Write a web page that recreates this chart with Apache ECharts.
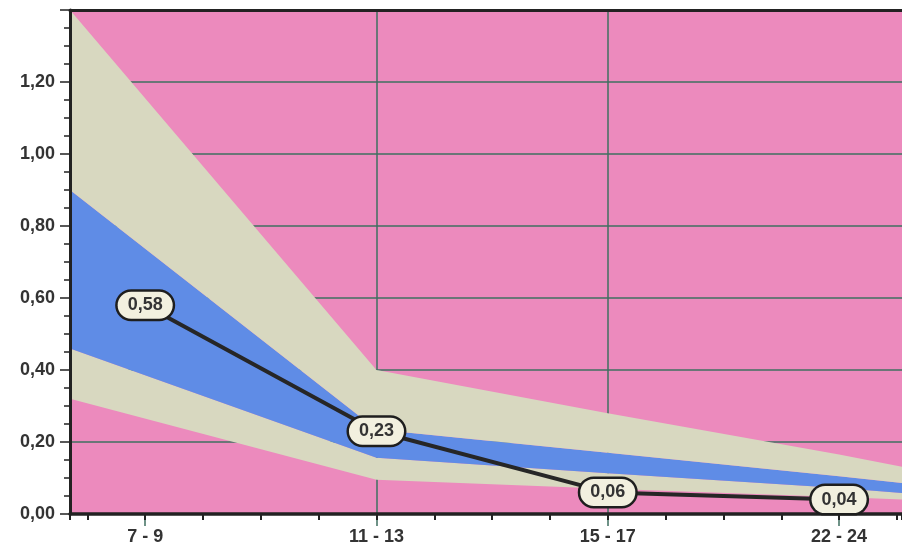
<!DOCTYPE html>
<html><head><meta charset="utf-8">
<script src="https://cdn.jsdelivr.net/npm/echarts@6/dist/echarts.min.js"></script>
<style>html,body{margin:0;padding:0;background:#fff}#c{width:902px;height:550px}</style>
</head><body><div id="c"></div>
<script>
// ---- data ----
const categories = ['7 - 9', '11 - 13', '15 - 17', '22 - 24'];
const categoryX = [1, 2, 3, 4];
const meanValues = [0.58, 0.23, 0.06, 0.04];
// band boundaries (x in category units)
const bandX      = [0.675, 2, 3, 4, 4.272];
const outerUpper = [1.40, 0.40, 0.28, 0.165, 0.131];
const blueUpper  = [0.90, 0.235, 0.17, 0.105, 0.086];
const blueLower  = [0.46, 0.156, 0.113, 0.072, 0.058];
const outerLower = [0.32, 0.095, 0.07, 0.047, 0.04];
const yTickValues = [0, 0.2, 0.4, 0.6, 0.8, 1.0, 1.2];
const yTickLabels = ['0,00', '0,20', '0,40', '0,60', '0,80', '1,00', '1,20'];

const X_MIN = 0.675, X_MAX = 4.272;
const PINK = '#ec8abd', BEIGE = '#d8d8c0', BLUE = '#5f8ce6', GRID = '#3f6f60', INK = '#222';

const chart = echarts.init(document.getElementById('c'), null, {renderer: 'canvas'});
const fontFamily = 'Liberation Sans, Arial, sans-serif';
// [y, x] order so that the stacked dimension is y
const ptsYX = (xs, ys) => xs.map((x, i) => [ys[i], x]);
const pts = (xs, ys) => xs.map((x, i) => [x, ys[i]]);
const diff = (a, b) => a.map((v, i) => +(v - b[i]).toFixed(4));
const bandSeries = (vals, color) => ({
  type: 'line', stack: 'band', data: ptsYX(bandX, vals), encode: {x: 1, y: 0},
  symbol: 'none', lineStyle: {opacity: 0}, silent: true, z: 2,
  areaStyle: color ? {color, opacity: 1} : undefined
});

chart.setOption({
  animation: false,
  backgroundColor: '#ffffff',
  grid: {left: 70, top: 10, right: 0, bottom: 36, show: true, backgroundColor: PINK, borderWidth: 0},
  xAxis: [
    { // band/line axis: black axis line + minor ticks
      type: 'value', min: X_MIN, max: X_MAX, position: 'bottom', z: 10,
      minInterval: 0.25, maxInterval: 0.25, splitNumber: 14,
      axisLine: {show: true, onZero: false, lineStyle: {color: INK, width: 3.5}},
      axisTick: {show: true, length: 6, lineStyle: {color: INK, width: 2}},
      axisLabel: {show: false}, splitLine: {show: false}
    },
    { // category labels + vertical grid lines
      type: 'value', min: X_MIN, max: X_MAX, position: 'bottom',
      minInterval: 1, maxInterval: 1,
      axisLine: {show: false, onZero: false},
      axisTick: {show: true, length: 12, customValues: categoryX, lineStyle: {color: GRID, width: 1.5}},
      axisLabel: {
        show: true, margin: 14, fontSize: 18, fontWeight: 'bold', color: '#333', fontFamily,
        customValues: categoryX,
        formatter: v => { const i = categoryX.indexOf(Math.round(v * 1000) / 1000); return i >= 0 ? categories[i] : ''; }
      },
      splitLine: {show: true, showMinLine: false, showMaxLine: false, lineStyle: {color: GRID, width: 1.5}}
    },
    { // top border
      type: 'value', min: X_MIN, max: X_MAX, position: 'top', z: 10,
      axisLine: {show: true, onZero: false, lineStyle: {color: INK, width: 3}},
      axisTick: {show: false}, axisLabel: {show: false}, splitLine: {show: false}
    }
  ],
  yAxis: [
    {
      type: 'value', min: 0, max: 1.4, interval: 0.2, position: 'left',
      axisLine: {show: false, onZero: false},
      axisTick: {show: false},
      axisLabel: {
        show: true, margin: 15, fontSize: 18, fontWeight: 'bold', color: '#333', fontFamily, showMaxLabel: false,
        formatter: v => { const i = yTickValues.findIndex(t => Math.abs(t - v) < 1e-6); return i >= 0 ? yTickLabels[i] : ''; }
      },
      splitLine: {show: true, showMaxLine: false, lineStyle: {color: GRID, width: 1.5}}
    },
    {
      type: 'value', min: 0, max: 1.4, interval: 0.2, position: 'left', z: 10,
      axisLine: {show: true, onZero: false, lineStyle: {color: INK, width: 3}},
      axisTick: {show: true, length: 10, lineStyle: {color: INK, width: 1.5}},
      minorTick: {show: true, splitNumber: 4, length: 6, lineStyle: {color: INK, width: 1.5}},
      axisLabel: {show: false}, splitLine: {show: false}
    }
  ],
  series: [
    bandSeries(outerLower, null),
    bandSeries(diff(blueLower, outerLower), BEIGE),
    bandSeries(diff(blueUpper, blueLower), BLUE),
    bandSeries(diff(outerUpper, blueUpper), BEIGE),
    {
      type: 'line', data: pts(categoryX, meanValues), z: 20,
      symbol: 'circle', symbolSize: 2, showSymbol: true,
      itemStyle: {color: '#262626'},
      lineStyle: {color: '#262626', width: 4},
      label: {
        show: true, position: 'inside',
        formatter: p => p.value[1].toFixed(2).replace('.', ','),
        fontSize: 18, fontWeight: 'bold', color: '#333', fontFamily,
        backgroundColor: '#f2f0df', borderColor: '#1e1e1e', borderWidth: 2.5, borderRadius: 15,
        padding: [5, 10, 4, 10]
      }
    }
  ]
});
</script></body></html>
